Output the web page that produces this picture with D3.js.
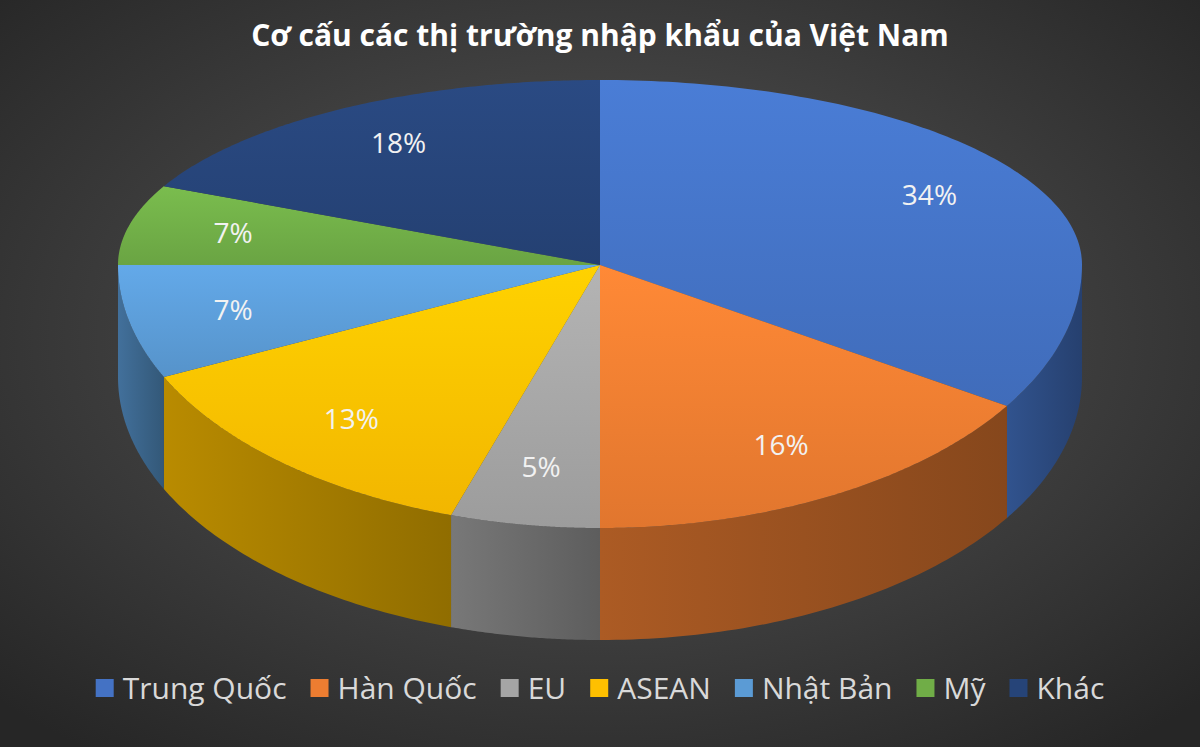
<!DOCTYPE html>
<html><head><meta charset="utf-8">
<script src="https://cdn.jsdelivr.net/npm/d3@7"></script>
<style>body{margin:0;background:#333;}svg{display:block;}</style>
</head><body>
<script>
var categories = ["Trung Quốc", "Hàn Quốc", "EU", "ASEAN", "Nhật Bản", "Mỹ", "Khác"];
var values = [34, 16, 5, 13, 7, 7, 18];
var colors = ["#4472C4", "#ED7D31", "#A5A5A5", "#FFC000", "#5B9BD5", "#70AD47", "#264478"];

var w = 1200, h = 747;
var cx = 600, cy = 265, rx = 482, ryTop = 185, ryBot = 263, depth = 112;

var svg = d3.select("body").append("svg").attr("width", w).attr("height", h);
var defs = svg.append("defs");
var bg = defs.append("radialGradient").attr("id", "bg").attr("cx", "50%").attr("cy", "45%").attr("r", "70%");
bg.append("stop").attr("offset", "0%").attr("stop-color", "#5a5a5a");
bg.append("stop").attr("offset", "100%").attr("stop-color", "#262626");
svg.append("rect").attr("width", w).attr("height", h).attr("fill", "url(#bg)");

// point on the top rim, angle from 12 o'clock clockwise (rough perspective: far half squashed)
function pt(a, r) {
  r = r == null ? 1 : r;
  var c = -Math.cos(a);
  return [cx + r * rx * Math.sin(a), cy + r * c * (c < 0 ? ryTop : ryBot)];
}

var pie = d3.pie().sort(null).value(function(d){ return d; });
var arcs = pie(values);

colors.forEach(function(c, i){
  var g = defs.append("linearGradient").attr("id", "top" + i).attr("x1", 0).attr("y1", 0).attr("x2", 0).attr("y2", 1);
  g.append("stop").attr("offset", "0%").attr("stop-color", d3.color(c).brighter(0.25));
  g.append("stop").attr("offset", "100%").attr("stop-color", d3.color(c).darker(0.15));
  var s = defs.append("linearGradient").attr("id", "side" + i).attr("x1", 0).attr("y1", 0).attr("x2", 1).attr("y2", 0);
  s.append("stop").attr("offset", "0%").attr("stop-color", d3.color(c).darker(0.9));
  s.append("stop").attr("offset", "100%").attr("stop-color", d3.color(c).darker(1.6));
});

// side walls (front half only)
arcs.forEach(function(d, i){
  var a0 = Math.max(d.startAngle, Math.PI / 2), a1 = Math.min(d.endAngle, 3 * Math.PI / 2);
  if (a1 <= a0) return;
  var p = d3.path(), n = 60, k, q;
  for (k = 0; k <= n; k++) { q = pt(a0 + (a1 - a0) * k / n); k ? p.lineTo(q[0], q[1]) : p.moveTo(q[0], q[1]); }
  for (k = n; k >= 0; k--) { q = pt(a0 + (a1 - a0) * k / n); p.lineTo(q[0], q[1] + depth); }
  p.closePath();
  svg.append("path").attr("d", p.toString()).attr("fill", "url(#side" + i + ")");
});

// top faces
arcs.forEach(function(d, i){
  var p = d3.path(), n = 120, k, q;
  p.moveTo(cx, cy);
  for (k = 0; k <= n; k++) { q = pt(d.startAngle + (d.endAngle - d.startAngle) * k / n); p.lineTo(q[0], q[1]); }
  p.closePath();
  svg.append("path").attr("d", p.toString()).attr("fill", "url(#top" + i + ")");
});

// labels
arcs.forEach(function(d, i){
  var q = pt((d.startAngle + d.endAngle) / 2, 0.78);
  svg.append("text").attr("x", q[0]).attr("y", q[1]).attr("dy", "0.35em")
    .attr("text-anchor", "middle").attr("fill", "#f2f2f2")
    .style("font", "28px 'Open Sans', Lato, sans-serif").text(values[i] + "%");
});

svg.append("text").attr("x", w / 2).attr("y", 46).attr("text-anchor", "middle")
  .attr("fill", "#ffffff").style("font", "bold 30px 'Open Sans', Lato, sans-serif")
  .text("Cơ cấu các thị trường nhập khẩu của Việt Nam");

// legend
var lg = svg.append("g");
var x = 0;
categories.forEach(function(c, i){
  var g = lg.append("g").attr("transform", "translate(" + x + ",0)");
  g.append("rect").attr("x", 0).attr("y", -9).attr("width", 18).attr("height", 18).attr("fill", colors[i]);
  var t = g.append("text").attr("x", 27).attr("y", 0).attr("dy", "0.35em").attr("fill", "#d9d9d9")
    .style("font", "30px 'Open Sans', Lato, sans-serif").text(c);
  x += 27 + t.node().getComputedTextLength() + 24;
});
x -= 24;
lg.attr("transform", "translate(" + ((w - x) / 2) + ",688)");
</script>
</body></html>
